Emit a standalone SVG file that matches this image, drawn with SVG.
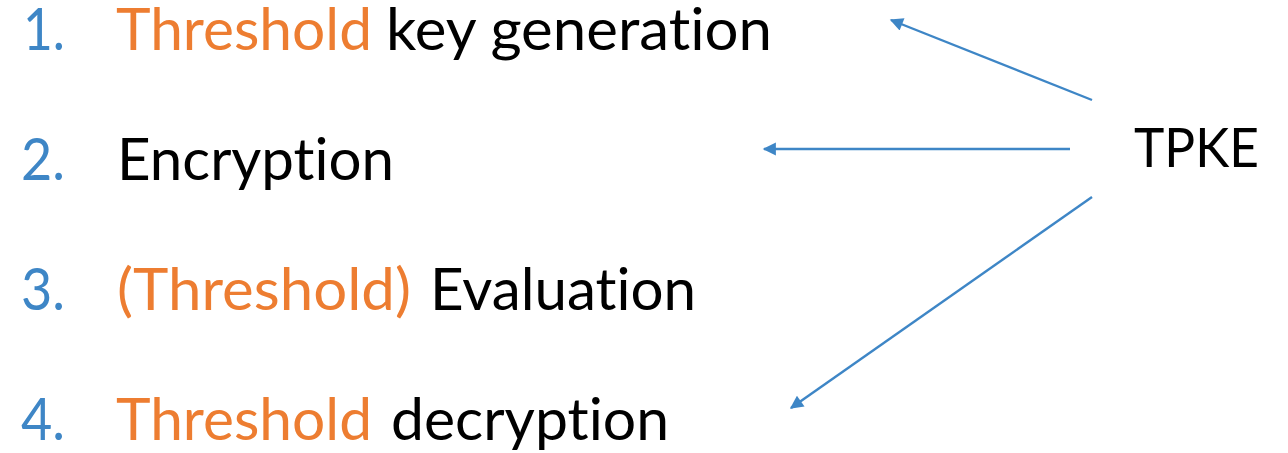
<svg xmlns="http://www.w3.org/2000/svg" width="1288" height="453" viewBox="0 0 1288 453">
<style>
text{font-family:Lato,"Open Sans","Liberation Sans",sans-serif;font-size:59px;font-variant-ligatures:none;font-feature-settings:"liga" 0}
.n{fill:#3E86C6}.o{fill:#ED7D31}.k{fill:#000}
.c{stroke:#3E86C6;stroke-width:2.4;fill:none}
</style>
<defs>
<marker id="ah" viewBox="0 0 10 10" refX="9" refY="5" markerWidth="6.5" markerHeight="5.5" markerUnits="strokeWidth" orient="auto">
<path d="M0,0 L10,5 L0,10 z" fill="#3E86C6"/>
</marker>
</defs>
<rect width="1288" height="453" fill="#fff"/>
<g id="item1">
<text class="n" x="23" y="50" textLength="42" lengthAdjust="spacingAndGlyphs">1.</text>
<text class="o" x="116" y="50" textLength="256" lengthAdjust="spacingAndGlyphs">Threshold</text>
<text class="k" x="386" y="50" textLength="386" lengthAdjust="spacingAndGlyphs">key generation</text>
</g>
<g id="item2">
<text class="n" x="21" y="180" textLength="44" lengthAdjust="spacingAndGlyphs">2.</text>
<text class="k" x="117" y="180" textLength="277" lengthAdjust="spacingAndGlyphs">Encryption</text>
</g>
<g id="item3">
<text class="n" x="21" y="310" textLength="44" lengthAdjust="spacingAndGlyphs">3.</text>
<text class="o" x="117" y="310" textLength="294" lengthAdjust="spacingAndGlyphs">(Threshold)</text>
<text class="k" x="430" y="310" textLength="266" lengthAdjust="spacingAndGlyphs">Evaluation</text>
</g>
<g id="item4">
<text class="n" x="21" y="440" textLength="44" lengthAdjust="spacingAndGlyphs">4.</text>
<text class="o" x="116" y="440" textLength="256" lengthAdjust="spacingAndGlyphs">Threshold</text>
<text class="k" x="391" y="440" textLength="278" lengthAdjust="spacingAndGlyphs">decryption</text>
</g>
<g id="tpke">
<text class="k" x="1134" y="167" style="font-size:55px" textLength="125" lengthAdjust="spacingAndGlyphs">TPKE</text>
</g>
<g id="connectors">
<line class="c" x1="1092" y1="100" x2="891" y2="20" marker-end="url(#ah)"/>
<line class="c" x1="1070" y1="149" x2="764" y2="149" marker-end="url(#ah)"/>
<line class="c" x1="1092" y1="197" x2="791" y2="408" marker-end="url(#ah)"/>
</g>
</svg>
